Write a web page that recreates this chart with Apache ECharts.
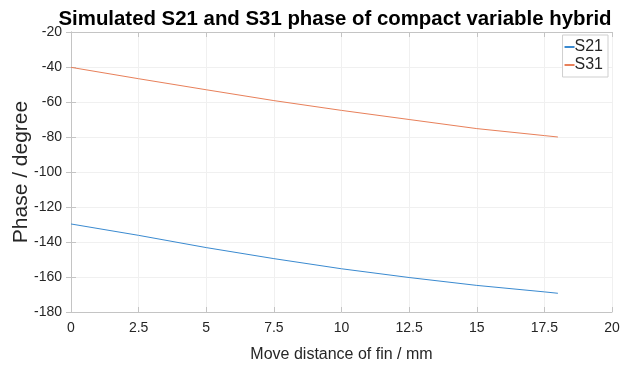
<!DOCTYPE html>
<html>
<head>
<meta charset="utf-8">
<script src="https://cdn.jsdelivr.net/npm/echarts@6/dist/echarts.min.js"></script>
<style>
html,body{margin:0;padding:0;background:#fff;}
#chart{width:643px;height:365px;}
</style>
</head>
<body>
<div id="chart"></div>
<script>
var titleText = 'Simulated S21 and S31 phase of compact variable hybrid';
var xName = 'Move distance of fin / mm';
var yName = 'Phase / degree';
var xValues = [0, 2.5, 5, 7.5, 10, 12.5, 15, 17.5, 18];
var s21 = [-129.7, -136.2, -143.2, -149.5, -155.3, -160.3, -164.8, -168.5, -169.3];
var s31 = [-40.2, -46.7, -53.0, -59.2, -64.8, -70.0, -75.2, -79.2, -80.0];
var seriesNames = ['S21', 'S31'];
var colors = ['#3a8ad0', '#e8805a'];

function pairs(xs, ys){ return xs.map(function(x,i){ return [x, ys[i]]; }); }

var font = "'Liberation Sans', Arial, sans-serif";
var axisCol = '#c4c4c4';
var chart = echarts.init(document.getElementById('chart'), null, {renderer:'canvas'});
var xCommon = {
  type:'value', min:0, max:20, interval:2.5,
  axisLine:{show:true, lineStyle:{color:axisCol, width:1}},
  axisTick:{show:true, inside:true, length:5, lineStyle:{color:axisCol}},
  splitLine:{show:false}
};
var yCommon = {
  type:'value', min:-180, max:-20, interval:20,
  axisLine:{show:true, lineStyle:{color:axisCol, width:1}},
  axisTick:{show:true, inside:true, length:5, lineStyle:{color:axisCol}},
  splitLine:{show:false}
};
chart.setOption({
  animation:false,
  backgroundColor:'#fff',
  title:{text:titleText, left:330, top:4, textAlign:'center',
    textStyle:{fontFamily:font, fontSize:20.4, fontWeight:'bold', color:'#000'}},
  grid:{left:71, right:31, top:32, bottom:53, containLabel:false, outerBoundsMode:'none'},
  legend:{
    data:seriesNames, orient:'vertical', right:35, top:35,
    itemWidth:10, itemHeight:2, itemGap:2, icon:'rect',
    padding:[4,5,4,2], borderColor:'#cfcfcf', borderWidth:1, backgroundColor:'#fff',
    textStyle:{fontFamily:font, fontSize:16, color:'#262626', padding:[0,0,0,-5]}
  },
  xAxis:[
    Object.assign({}, xCommon, {
      position:'bottom',
      name:xName, nameLocation:'middle', nameGap:35, nameMoveOverlap:false,
      nameTextStyle:{fontFamily:font, fontSize:16, color:'#262626'},
      axisLabel:{fontFamily:font, fontSize:14, color:'#262626', margin:9},
      splitLine:{show:true, lineStyle:{color:'#f0f0f0', width:1}}
    }),
    Object.assign({}, xCommon, {position:'top', axisLabel:{show:false}})
  ],
  yAxis:[
    Object.assign({}, yCommon, {
      position:'left',
      name:yName, nameLocation:'middle', nameGap:39, nameMoveOverlap:false,
      nameTextStyle:{fontFamily:font, fontSize:21, color:'#262626'},
      axisLabel:{fontFamily:font, fontSize:14, color:'#262626', margin:9},
      splitLine:{show:true, lineStyle:{color:'#f0f0f0', width:1}}
    }),
    Object.assign({}, yCommon, {position:'right', axisLabel:{show:false}})
  ],
  series:[
    {name:seriesNames[0], type:'line', data:pairs(xValues, s21), showSymbol:false,
      lineStyle:{color:colors[0], width:1}, itemStyle:{color:colors[0]}},
    {name:seriesNames[1], type:'line', data:pairs(xValues, s31), showSymbol:false,
      lineStyle:{color:colors[1], width:1}, itemStyle:{color:colors[1]}}
  ]
});
</script>
</body>
</html>
